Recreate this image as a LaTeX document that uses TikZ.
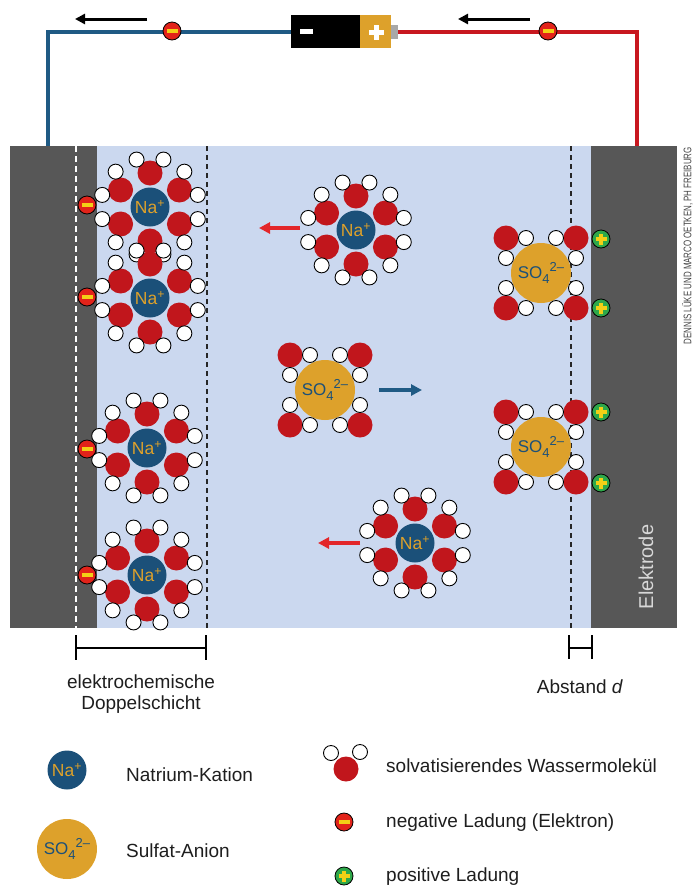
\documentclass[tikz,border=0pt]{standalone}
\usepackage{fontspec}
\setmainfont{Liberation Sans}
\usetikzlibrary{arrows.meta,calc}

\definecolor{elgrey}{HTML}{575757}
\definecolor{electrolyte}{HTML}{CBD8EF}
\definecolor{oxred}{HTML}{C1161C}
\definecolor{nablue}{HTML}{1B5079}
\definecolor{sogold}{HTML}{DDA12B}
\definecolor{wireblue}{HTML}{1F5A84}
\definecolor{wirered}{HTML}{C8171F}
\definecolor{chgred}{HTML}{E2231A}
\definecolor{chgyellow}{HTML}{F3D016}
\definecolor{chggreen}{HTML}{2EA84A}
\definecolor{arrred}{HTML}{E3262A}
\definecolor{tipgrey}{HTML}{A8A8A8}
\definecolor{eltext}{HTML}{D8D8D8}
\definecolor{txtcol}{HTML}{1E1E1E}
\definecolor{creditcol}{HTML}{444444}

\newcommand\legfont{\fontsize{19}{23}\selectfont}
\newcommand\nafont{\fontsize{17.5}{18}\selectfont}
\newcommand\sofont{\fontsize{17}{17}\selectfont}
\newcommand\soscript{\fontsize{13}{13}\selectfont}
\newcommand\sulfat{SO\raisebox{-4.5pt}{\soscript 4}\raisebox{7pt}{\soscript 2–}}

\tikzset{
  oxy/.style={fill=oxred},
  hyd/.style={fill=white, draw=black, line width=0.9pt},
  naion/.style={circle, fill=nablue, minimum size=39pt, inner sep=0, text=sogold, font=\nafont},
  soion/.style={circle, fill=sogold, minimum size=60pt, inner sep=0, text=nablue, font=\sofont},
  chg/.style={circle, draw=black, line width=0.8pt, minimum size=18pt, inner sep=0},
  electrode/.style={rectangle, fill=elgrey, inner sep=0, minimum height=482pt},
  batpart/.style={rectangle, inner sep=0},
  wire/.style={line width=4pt},
  blackdash/.style={draw=black!85, line width=1.3pt, dash pattern=on 5pt off 4pt},
  whitedash/.style={draw=white, line width=1.3pt, dash pattern=on 6pt off 4pt},
  movearrow/.style={line width=3.3pt, -{Triangle[length=11pt,width=11pt]}},
  flowarrow/.style={line width=3pt, black, -{Triangle[length=10pt,width=10pt]}},
  bracket/.style={line width=2.3pt, black},
  legtext/.style={font=\legfont, text=txtcol, inner sep=0},
  % sodium ion with six water molecules, oxygen pointing inwards
  pics/nacl/.style={code={
    \foreach \a in {30,90,...,330}{\fill[oxy] (\a:34) circle (12.5pt);}
    \node[naion] (-ion) at (0,0) {Na\textsuperscript{+}};
    \foreach \a in {30,90,...,330}{
      \filldraw[hyd] ($(\a:34)+(\a+45:19)$) circle (7.5pt);
      \filldraw[hyd] ($(\a:34)+(\a-45:19)$) circle (7.5pt);
    }
  }},
  % sulfate ion with four water molecules, hydrogen pointing inwards
  pics/socl/.style={code={
    \foreach \sx in {-1,1}{\foreach \sy in {-1,1}{\fill[oxy] (35*\sx,35*\sy) circle (12.5pt);}}
    \node[soion] (-ion) at (0,0) {\sulfat};
    \foreach \sx in {-1,1}{\foreach \sy in {-1,1}{
      \filldraw[hyd] (15*\sx,35*\sy) circle (7.5pt);
      \filldraw[hyd] (35*\sx,15*\sy) circle (7.5pt);
    }}
  }},
  pics/eminus/.style={code={
    \node[chg, fill=chgred] (-c) at (0,0) {};
    \fill[chgyellow] (-5.5,-2.3) rectangle (5.5,2.3);
  }},
  pics/eplus/.style={code={
    \node[chg, fill=chggreen] (-c) at (0,0) {};
    \fill[chgyellow] (-5.5,-1.9) rectangle (5.5,1.9);
    \fill[chgyellow] (-1.9,-5.5) rectangle (1.9,5.5);
  }},
}

\begin{document}
\begin{tikzpicture}[x=1pt,y=-1pt]
\useasboundingbox (0,0) rectangle (694,887);

% cell: electrolyte between two electrodes
\fill[electrolyte] (97,146) rectangle (591,628);

% external circuit
\node[batpart, fill=black, minimum width=69pt, minimum height=33pt] (bat) at (325.5,31.5) {};
\node[batpart, fill=sogold, minimum width=31pt, minimum height=33pt] (batcap) at (375.5,31.5) {};
\node[batpart, fill=tipgrey, minimum width=7pt, minimum height=14pt] (battip) at (394.5,31.5) {};
\node[batpart, fill=white, minimum width=13pt, minimum height=5pt] (batminus) at (306.5,31.5) {};
\node[batpart, fill=white, minimum width=15pt, minimum height=5pt] (batplush) at (376,32) {};
\node[batpart, fill=white, minimum width=5pt, minimum height=15pt] (batplusv) at (376,32) {};
\coordinate (wl) at (48,146);
\coordinate (wr) at (637,146);
\draw[wire, wireblue] (wl) |- (bat.west);
\draw[wire, wirered] (battip.east) -| (wr);
\pic (we1) at (172,31) {eminus};
\pic (we2) at (548,31) {eminus};
\coordinate (fa1) at (147,19);
\coordinate (fb1) at (75,19);
\coordinate (fa2) at (530,19);
\coordinate (fb2) at (458,19);
\draw[flowarrow] (fa1) -- (fb1);
\draw[flowarrow] (fa2) -- (fb2);

% electrodes
\node[electrode, minimum width=87pt] (eleft) at (53.5,387) {};
\node[electrode, minimum width=86pt] (eright) at (634,387) {};
\node[rotate=90, font=\fontsize{20}{20}\selectfont, text=eltext, inner sep=0] (ellabel) at (646,567) {Elektrode};
\node[rotate=90, anchor=east, text=creditcol, inner sep=0] (credit) at (687.5,147)
  {\scalebox{0.72}[1]{\fontsize{11}{11}\selectfont DENNIS LÜKE UND MARCO OETKEN, PH FREIBURG}};

% boundaries of the double layers
\draw[whitedash] (76,146) -- (76,628);
\draw[blackdash] (207,146) -- (207,628);
\draw[blackdash] (571,146) -- (571,628);

% solvated ions
\pic (na1) at (150,207) {nacl};
\pic (na2) at (150,298) {nacl};
\pic (na3) at (147,448) {nacl};
\pic (na4) at (147,575) {nacl};
\pic (na5) at (356,230) {nacl};
\pic (na6) at (415,543) {nacl};
\pic (so1) at (325,390) {socl};
\pic (so2) at (541,273) {socl};
\pic (so3) at (541,447) {socl};

% charges on the electrode surfaces
\pic (el1) at (87,205) {eminus};
\pic (el2) at (87,297) {eminus};
\pic (el3) at (87,449) {eminus};
\pic (el4) at (87,575) {eminus};
\pic (pl1) at (601,239) {eplus};
\pic (pl2) at (601,308) {eplus};
\pic (pl3) at (601,412) {eplus};
\pic (pl4) at (601,483) {eplus};

% directions of motion
\coordinate (ma1) at (300,228);
\coordinate (mb1) at (259,228);
\coordinate (ma2) at (360,543);
\coordinate (mb2) at (318,543);
\coordinate (ma3) at (379,390);
\coordinate (mb3) at (422,390);
\draw[movearrow, arrred] (ma1) -- (mb1);
\draw[movearrow, arrred] (ma2) -- (mb2);
\draw[movearrow, wireblue] (ma3) -- (mb3);

% dimension marks
\coordinate (dl) at (76,648);
\coordinate (dr) at (206,648);
\draw[bracket] (dl) -- (dr);
\draw[bracket] ($(dl)+(0,-13)$) -- ($(dl)+(0,12)$);
\draw[bracket] ($(dr)+(0,-13)$) -- ($(dr)+(0,12)$);
\node[legtext, anchor=base] (dlab1) at (141,688) {elektrochemische};
\node[legtext, anchor=base] (dlab2) at (141,709) {Doppelschicht};
\coordinate (al) at (569,648);
\coordinate (ar) at (592,648);
\draw[bracket, line width=2pt] (al) -- (ar);
\draw[bracket, line width=2pt] ($(al)+(0,-13)$) -- ($(al)+(0,11)$);
\draw[bracket, line width=2pt] ($(ar)+(0,-13)$) -- ($(ar)+(0,11)$);
\node[legtext, anchor=base] (alab) at (580,693) {Abstand \textit{d}};

% legend
\node[naion] (legna) at (67,770) {Na\textsuperscript{+}};
\node[legtext, anchor=base west] (legnat) at (126,781) {Natrium-Kation};
\node[soion] (legso) at (67,849) {\sulfat};
\node[legtext, anchor=base west] (legsot) at (126,857) {Sulfat-Anion};
\filldraw[hyd] (331,753) circle (7.5pt);
\filldraw[hyd] (360,752) circle (7.5pt);
\fill[oxy] (346,769) circle (12.5pt);
\node[legtext, anchor=base west] (legwt) at (386,772) {solvatisierendes Wassermolekül};
\pic (legm) at (344,822) {eminus};
\node[legtext, anchor=base west] (legmt) at (386,827) {negative Ladung (Elektron)};
\pic (legp) at (344,876) {eplus};
\node[legtext, anchor=base west] (legpt) at (386,881) {positive Ladung};
\end{tikzpicture}
\end{document}
